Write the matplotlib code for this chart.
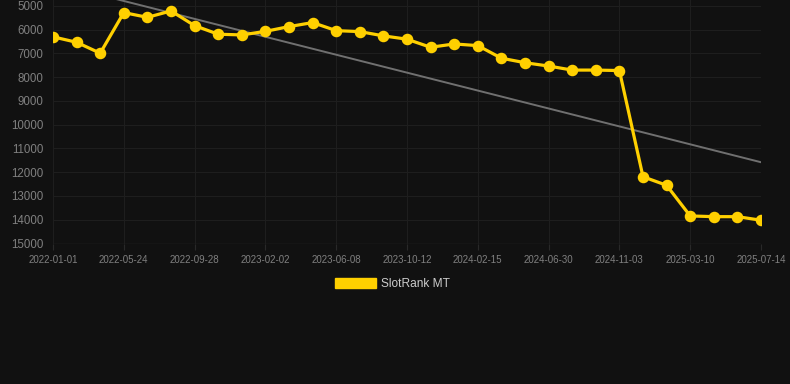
import matplotlib
matplotlib.use("Agg")
import matplotlib.pyplot as plt
from matplotlib.patches import Patch
import numpy as np

# rank values (lower is better, y axis inverted)
rank = [6300, 6530, 6990, 5280, 5480, 5210, 5830, 6190, 6220, 6070,
        5870, 5700, 6040, 6080, 6260, 6400, 6740, 6600, 6670, 7200,
        7390, 7530, 7700, 7700, 7720, 12190, 12550, 13840, 13870, 13870,
        14020]
# labels shown on the x axis, one for every third point
date_labels = ["2022-01-01", "2022-05-24", "2022-09-28", "2023-02-02",
               "2023-06-08", "2023-10-12", "2024-02-15", "2024-06-30",
               "2024-11-03", "2025-03-10", "2025-07-14"]
y_ticks = list(range(5000, 15001, 1000))

bg = "#111111"
gold = "#FFD000"
grid_c = "#1e1e1e"

fig = plt.figure(figsize=(7.9, 3.84), dpi=100, facecolor=bg)
ax = fig.add_axes([53 / 790, 1 - 243.5 / 384, 708 / 790, 243.5 / 384])
ax.set_facecolor(bg)

x = np.arange(len(rank))
y = np.array(rank)

# linear trend
k, b = np.polyfit(x, y, 1)
ax.plot(x, k * x + b, color="#707070", lw=1.4, zorder=2)

ax.plot(x, y, color=gold, lw=2.3, marker="o", markersize=7.3,
        markerfacecolor=gold, markeredgecolor=gold, zorder=3)

ax.set_xlim(0, len(rank) - 1)
ax.set_ylim(15000, 4750)
ax.set_yticks(y_ticks)
ax.set_yticklabels([str(t) for t in y_ticks])
ax.set_xticks(x[::3])
ax.set_xticklabels(date_labels)

for s in ax.spines.values():
    s.set_visible(False)
ax.axhline(15000, color="#292929", lw=1, zorder=1)
ax.grid(True, color=grid_c, lw=0.8, zorder=0)
ax.tick_params(axis="y", length=0, pad=7, labelsize=8.3, labelcolor="#808080")
ax.tick_params(axis="x", length=4, color="#292929", pad=4, labelsize=7,
               labelcolor="#808080")
for lab in ax.get_xticklabels() + ax.get_yticklabels():
    lab.set_fontfamily("Liberation Sans")

leg = fig.legend(handles=[Patch(facecolor=gold, edgecolor=gold, label="SlotRank MT")],
                 loc="center", bbox_to_anchor=(0.497, 1 - 284 / 384),
                 frameon=False, handlelength=3.4, handleheight=1.0,
                 handletextpad=0.5, prop={"family": "Liberation Sans", "size": 8.6})
for t in leg.get_texts():
    t.set_color("#cccccc")

plt.savefig("out.png", facecolor=bg)
